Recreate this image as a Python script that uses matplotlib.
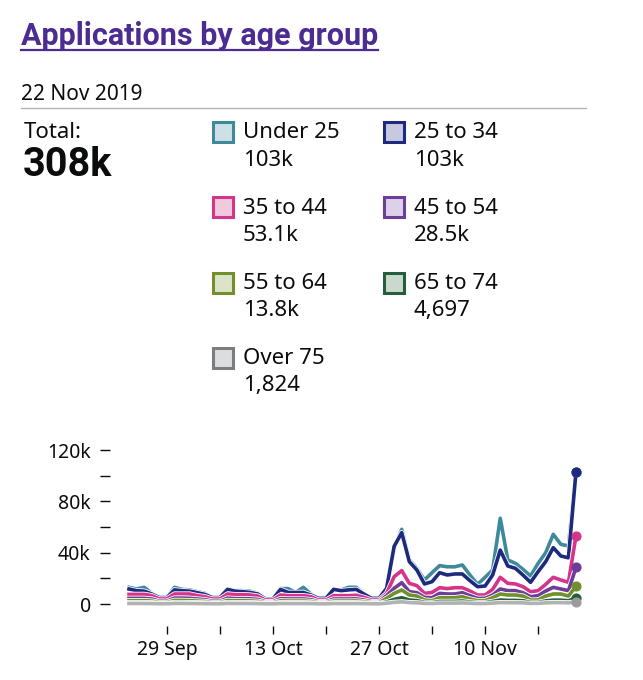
import matplotlib
matplotlib.use("Agg")
import matplotlib.pyplot as plt
import matplotlib.patches as patches
import matplotlib.patheffects as pe
import pandas as pd

plt.rcParams['font.family'] = ['Noto Sans', 'DejaVu Sans']
BOLD_FAMILY = ['Roboto', 'Liberation Sans', 'DejaVu Sans']

# Daily applications (thousands), 24 Sep - 22 Nov 2019
dates = pd.date_range("2019-09-24", "2019-11-22", freq="D")

under_25 = [13, 11.7, 13, 8.3, 5, 5, 13, 11.4, 11, 9.6,
            8.3, 5, 5, 11.7, 10.4, 10.4, 10, 8.3, 4, 4,
            12, 12, 9, 13, 7.8, 4.4, 4.4, 11, 11, 13,
            13, 7.8, 4.4, 4.4, 12.2, 43.4, 58.2, 34.3, 27.8, 18.7,
            24.4, 29.9, 29, 29, 30.4, 22.6, 15.3, 20.8, 26.5, 66.8,
            34.3, 31.7, 27, 21.8, 31.7, 40, 54.3, 46.5, 45.2, 103]
age_25_34 = [11.7, 10.4, 10, 7.8, 5, 5, 11, 10.4, 10, 8.8,
             7.5, 5, 5, 11.4, 10, 9.6, 9, 7.8, 4, 4,
             11.4, 9, 9, 9, 7, 4.4, 4.4, 11.4, 10.4, 11,
             11.4, 7.8, 4.4, 4.4, 12.2, 45, 55.6, 33, 26.5, 15.6,
             17.4, 24.4, 22.6, 23.4, 23.4, 18.2, 13.5, 14, 22.6, 42,
             29.6, 27.8, 22.6, 16.9, 25.2, 33, 43.9, 37.4, 36, 103]
age_35_44 = [7.5, 7.5, 7.5, 6.5, 3.9, 3.9, 7.8, 7.8, 7.8, 6.5,
             5.7, 3.9, 3.9, 7.8, 7.3, 7.3, 7, 6.2, 3.1, 3.1,
             7, 6.5, 6.5, 6.5, 5.7, 3.1, 3.1, 6.5, 6.5, 6.5,
             6.8, 5.2, 3.1, 3.1, 8.3, 21.3, 26, 16.1, 14.3, 8.3,
             9, 12.7, 12, 12.7, 12.7, 10.1, 7, 7, 11.4, 20.8,
             16.1, 15.6, 13.5, 9.6, 10.4, 15.3, 20.8, 18.7, 16.9, 53.1]
age_45_54 = [4.4, 4.4, 4.4, 3.9, 2.2, 2.2, 4.6, 4.6, 4.4, 3.9,
             3.4, 2.2, 2.2, 4.6, 4.2, 4.2, 4.0, 3.6, 1.8, 1.8,
             4.2, 3.9, 3.9, 3.9, 3.4, 1.8, 1.8, 3.9, 3.9, 3.9,
             4.0, 3.1, 1.8, 1.8, 6.5, 12.2, 16.6, 9.6, 8.8, 5.2,
             4.9, 8.3, 7.8, 7.8, 8.8, 6.5, 4.4, 4.4, 7, 11.7,
             10.4, 10.4, 8.8, 5.7, 6.5, 10.1, 13, 11.7, 10.4, 28.5]
age_55_64 = [2.6, 2.6, 2.6, 2.3, 1.2, 1.2, 2.8, 2.8, 2.6, 2.3,
             2.0, 1.2, 1.2, 2.8, 2.5, 2.5, 2.4, 2.1, 1.0, 1.0,
             2.5, 2.3, 2.3, 2.3, 2.0, 1.0, 1.0, 2.3, 2.3, 2.3,
             2.4, 1.8, 1.0, 1.0, 4.4, 8.3, 10.9, 7, 6.2, 3.1,
             2.6, 4.9, 4.9, 4.9, 5.7, 3.9, 2.6, 2.6, 4.9, 7.8,
             7, 7, 6.2, 3.1, 3.1, 6.2, 7.8, 7.8, 6.2, 13.8]
age_65_74 = [1.0, 1.0, 1.0, 0.9, 0.5, 0.5, 1.1, 1.1, 1.0, 0.9,
             0.8, 0.5, 0.5, 1.1, 1.0, 1.0, 0.9, 0.8, 0.4, 0.4,
             1.0, 0.9, 0.9, 0.9, 0.8, 0.4, 0.4, 0.9, 0.9, 0.9,
             0.9, 0.7, 0.4, 0.4, 1.6, 3.6, 4.9, 3.1, 2.6, 1.3,
             1.1, 2.0, 2.0, 2.0, 2.3, 1.6, 1.1, 1.1, 2.0, 3.1,
             2.8, 2.8, 2.5, 1.3, 1.3, 2.4, 3.0, 3.0, 2.5, 4.7]
over_75 = [0.4, 0.4, 0.4, 0.35, 0.2, 0.2, 0.45, 0.45, 0.4, 0.35,
           0.3, 0.2, 0.2, 0.45, 0.4, 0.4, 0.4, 0.3, 0.15, 0.15,
           0.4, 0.35, 0.35, 0.35, 0.3, 0.15, 0.15, 0.35, 0.35, 0.35,
           0.35, 0.3, 0.15, 0.15, 0.6, 1.3, 1.7, 1.1, 0.9, 0.5,
           0.4, 0.7, 0.7, 0.7, 0.8, 0.6, 0.4, 0.4, 0.7, 1.1,
           1.0, 1.0, 0.9, 0.5, 0.5, 0.9, 1.1, 1.1, 0.9, 1.8]

group_names = ["Under 25", "25 to 34", "35 to 44", "45 to 54",
               "55 to 64", "65 to 74", "Over 75"]
group_totals = ["103k", "103k", "53.1k", "28.5k", "13.8k", "4,697", "1,824"]
series = [under_25, age_25_34, age_35_44, age_45_54, age_55_64, age_65_74, over_75]

line_colors = ["#3e8a9c", "#1d2a7e", "#d4358b", "#6c3e9a", "#71902b", "#255e3c", "#b0b2b4"]
edge_colors = ["#3e8a9c", "#1d2a7e", "#d4358b", "#6c3e9a", "#71902b", "#255e3c", "#7b7d80"]
fill_colors = ["#cde0e6", "#c6c9e0", "#f1c9dd", "#dcd1e9", "#dde3c9", "#c9d9ce", "#dcdddf"]
marker_colors = ["#3e8a9c", "#1d2a7e", "#d4358b", "#6c3e9a", "#71902b", "#255e3c", "#9a9c9e"]

tick_dates = pd.to_datetime(["2019-09-29", "2019-10-06", "2019-10-13", "2019-10-20",
                             "2019-10-27", "2019-11-03", "2019-11-10", "2019-11-17"])
tick_labels = ["29 Sep", "", "13 Oct", "", "27 Oct", "", "10 Nov", ""]
y_ticks = [0, 20, 40, 60, 80, 100, 120]
y_labels = ["0", "", "40k", "", "80k", "", "120k"]

W, H = 643, 680
TEXT = "#0b0c0c"

fig = plt.figure(figsize=(W / 100, H / 100), dpi=100)

# overlay axes in pixel coords (y down) for the header + legend
bg = fig.add_axes([0, 0, 1, 1])
bg.set_xlim(0, W)
bg.set_ylim(H, 0)
bg.axis("off")

title = bg.text(21, 45, "Applications by age group", fontsize=22, fontweight="bold",
                family=BOLD_FAMILY, color="#4c2c92", va="baseline")
bg.text(21, 100, "22 Nov 2019", fontsize=15, color=TEXT, va="baseline")
bg.plot([21, 586], [107.5, 107.5], color="#b1b4b6", lw=1)
bg.text(24, 138, "Total:", fontsize=16, color=TEXT, va="baseline")
bg.text(23, 176, "308k", fontsize=28.5, fontweight="bold", family=BOLD_FAMILY,
        color=TEXT, va="baseline")

# legend grid
for i, (name, tot) in enumerate(zip(group_names, group_totals)):
    col, row = i % 2, i // 2
    bx = 213 if col == 0 else 384
    by = 122 + row * 75.3
    bg.add_patch(patches.Rectangle((bx, by), 20, 20, facecolor=fill_colors[i],
                                   edgecolor=edge_colors[i], lw=2.2))
    bg.text(bx + 30, by + 16.5, name, fontsize=16, color=TEXT, va="baseline")
    bg.text(bx + 30, by + 43.5, tot, fontsize=16, color=TEXT, va="baseline")

# chart
ax = fig.add_axes([129 / W, 1 - 604 / H, (576 - 129) / W, 154 / H])
ax.patch.set_alpha(0)
for i, vals in enumerate(series):
    ax.plot(dates, vals, color=line_colors[i], lw=2.6, clip_on=False,
            solid_joinstyle="round",
            path_effects=[pe.Stroke(linewidth=3.8, foreground="white"), pe.Normal()])
for i, vals in enumerate(series):
    ax.plot(dates[-1], vals[-1], "o", ms=6.3, color=marker_colors[i], clip_on=False, zorder=5)

ax.set_xlim(dates[0], dates[-1])
ax.set_ylim(0, 120)
for s in ax.spines.values():
    s.set_visible(False)
ax.spines["left"].set_position(("outward", 14))
ax.spines["bottom"].set_position(("outward", 16))
ax.set_yticks(y_ticks)
ax.set_yticklabels(y_labels)
ax.set_xticks(tick_dates)
ax.set_xticklabels(tick_labels)
ax.tick_params(axis="y", length=7.5, width=1, color=TEXT, labelsize=14,
               labelcolor=TEXT, pad=6)
ax.tick_params(axis="x", length=6, width=1, color=TEXT, labelsize=14,
               labelcolor=TEXT, pad=4)

# underline the title
fig.canvas.draw()
bb = title.get_window_extent(fig.canvas.get_renderer())
bg.plot([bb.x0, bb.x1], [49.5, 49.5], color="#4c2c92", lw=1.6)

fig.savefig("out.png", dpi=100)
